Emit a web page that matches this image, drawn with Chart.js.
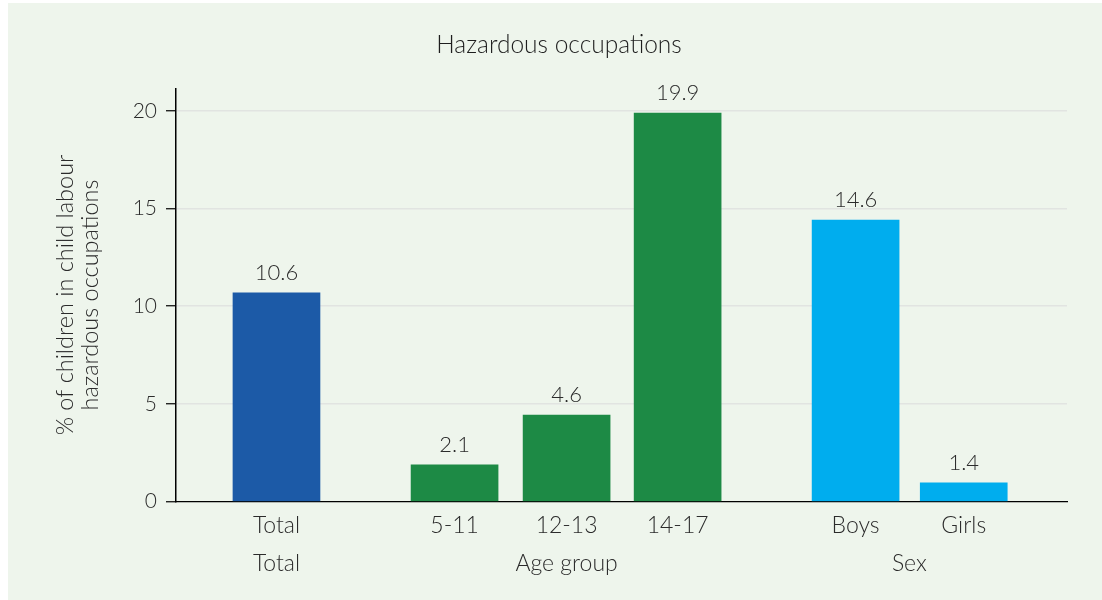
<!DOCTYPE html>
<html>
<head>
<meta charset="utf-8">
<script src="https://cdn.jsdelivr.net/npm/chart.js@4"></script>
<style>
  html, body { margin: 0; padding: 0; background: #ffffff; }
  #wrap { width: 1102px; height: 600px; position: relative; }
</style>
</head>
<body>
<div id="wrap"><canvas id="hazChart" width="1102" height="600"></canvas></div>
<script>
// Hazardous occupations - bar chart

// bar categories and their place along the x axis
const barLabels = ['Total', '5-11', '12-13', '14-17', 'Boys', 'Girls'];
const barPositions = [0, 1.604, 2.613, 3.613, 5.216, 6.19];
const barValues = [10.69, 1.88, 4.43, 19.88, 14.41, 0.96];
const valueLabels = ['10.6', '2.1', '4.6', '19.9', '14.6', '1.4'];
const barColors = ['#1c5aa7', '#1d8a45', '#1d8a45', '#1d8a45', '#00adee', '#00adee'];

// group labels under the bars
const groupLabels = ['Total', 'Age group', 'Sex'];
const groupPositions = [0, 2.613, 5.70];

// y axis ticks
const yTicks = [0, 5, 10, 15, 20];

const fontFamily = 'Lato, "Open Sans", sans-serif';
const fontWeight = '300';
const textColor = '#2b2b2b';

// light green panel behind the chart
const panelBackground = {
    id: 'panelBackground',
    beforeDraw(chart) {
        const ctx = chart.ctx;
        ctx.save();
        ctx.fillStyle = '#eef5ec';
        ctx.fillRect(8, 3, chart.width - 8, chart.height - 3);
        ctx.restore();
    }
};

// value labels above bars
const valueLabelPlugin = {
    id: 'valueLabels',
    afterDatasetsDraw(chart) {
        const ctx = chart.ctx;
        const meta = chart.getDatasetMeta(0);
        ctx.save();
        ctx.font = fontWeight + ' 22px ' + fontFamily;
        ctx.fillStyle = textColor;
        ctx.textAlign = 'center';
        ctx.textBaseline = 'alphabetic';
        meta.data.forEach(function (bar, i) {
            ctx.fillText(valueLabels[i], bar.x, bar.y - 13);
        });
        ctx.restore();
    }
};

const xMin = -0.905;
const xMax = 7.12;

new Chart(document.getElementById('hazChart').getContext('2d'), {
    type: 'bar',
    data: {
        datasets: [{
            data: barPositions.map(function (x, i) { return { x: x, y: barValues[i] }; }),
            backgroundColor: barColors,
            borderWidth: 0,
            barThickness: 87
        }]
    },
    options: {
        responsive: false,
        animation: false,
        layout: {
            padding: { left: 16, right: 0, top: 0, bottom: 0 }
        },
        plugins: {
            legend: { display: false },
            tooltip: { enabled: false },
            title: {
                display: true,
                text: 'Hazardous occupations',
                color: '#1e1e1e',
                font: { family: fontFamily, size: 24.5, weight: fontWeight, lineHeight: 1.2 },
                padding: { top: 30.5, bottom: 28.4 }
            }
        },
        scales: {
            x: {
                type: 'linear',
                position: 'bottom',
                min: xMin,
                max: xMax,
                offset: false,
                grid: { display: false, drawTicks: false, offset: false },
                border: { display: true, color: '#000000', width: 1.2 },
                afterBuildTicks: function (scale) {
                    scale.ticks = barPositions.map(function (v) { return { value: v }; });
                },
                afterFit: function (scale) { scale.height = 40; },
                ticks: {
                    autoSkip: false,
                    maxRotation: 0,
                    padding: 10,
                    color: textColor,
                    font: { family: fontFamily, size: 23, weight: fontWeight },
                    callback: function (value, index) { return barLabels[index]; }
                }
            },
            x2: {
                type: 'linear',
                position: 'bottom',
                min: xMin,
                max: xMax,
                offset: false,
                grid: { display: false, drawTicks: false },
                border: { display: false },
                afterBuildTicks: function (scale) {
                    scale.ticks = groupPositions.map(function (v) { return { value: v }; });
                },
                afterFit: function (scale) { scale.height = 58.3; },
                ticks: {
                    autoSkip: false,
                    maxRotation: 0,
                    padding: 8,
                    color: textColor,
                    font: { family: fontFamily, size: 23, weight: fontWeight },
                    callback: function (value, index) { return groupLabels[index]; }
                }
            },
            y: {
                min: 0,
                max: 21.15,
                afterBuildTicks: function (scale) {
                    scale.ticks = yTicks.map(function (v) { return { value: v }; });
                },
                afterFit: function (scale) { scale.width = 160; },
                grid: {
                    color: function (c) { return c.tick && c.tick.value === 0 ? 'rgba(0,0,0,0)' : '#e1e4e1'; },
                    tickColor: '#000000',
                    tickLength: 10,
                    lineWidth: 1.5,
                    tickWidth: 1.2
                },
                border: { display: true, color: '#000000', width: 1.5 },
                ticks: {
                    padding: 9,
                    color: textColor,
                    font: { family: fontFamily, size: 21, weight: fontWeight }
                },
                title: {
                    display: true,
                    text: ['% of children in child labour', 'hazardous occupations'],
                    color: textColor,
                    font: { family: fontFamily, size: 23.5, weight: fontWeight, lineHeight: 1.064 },
                    padding: { top: 36.5, bottom: 0 }
                }
            },
            yRight: {
                position: 'right',
                display: true,
                min: 0,
                max: 1,
                afterFit: function (scale) { scale.width = 35; },
                grid: { display: false, drawTicks: false },
                border: { display: false },
                ticks: { display: false }
            }
        }
    },
    plugins: [panelBackground, valueLabelPlugin]
});
</script>
</body>
</html>
